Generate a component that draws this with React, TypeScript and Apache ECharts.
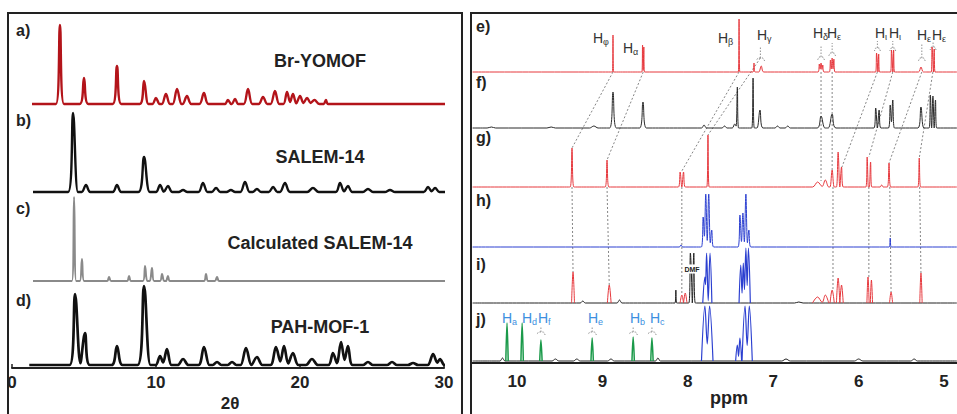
import React, { useEffect, useRef } from "react";
import * as echarts from "echarts";

const FONT = '"Liberation Sans", Arial, Helvetica, sans-serif';

// ---------------- Left panel: PXRD patterns, peaks as [2θ, height, halfWidth] ----------------
const twoThetaTicks = [0, 10, 20, 30];
const pxrdNames = ["Br-YOMOF", "SALEM-14", "Calculated SALEM-14", "PAH-MOF-1"];
const pxrdLetters = ["a)", "b)", "c)", "d)"];
const pxrdRanges = [[1.39, 30.07], [1.46, 30.07], [1.46, 30.07], [1.2, 30.07]];

const pxrdBrYOMOF = [
  [3.33, 79, 0.28], [5.0, 26, 0.3], [7.29, 38, 0.3], [9.17, 23, 0.3], [10.0, 6, 0.25],
  [10.69, 10, 0.28], [11.46, 15, 0.3], [12.15, 8, 0.3], [13.33, 11, 0.32], [15.0, 4, 0.22],
  [15.49, 5, 0.22], [16.39, 15, 0.3], [17.43, 7, 0.3], [18.26, 13, 0.3], [19.1, 12, 0.25],
  [19.51, 10, 0.25], [20.0, 8, 0.28], [20.49, 6, 0.3], [21.0, 4, 0.35], [21.8, 4, 0.15],
];
const pxrdSALEM14 = [
  [4.24, 79, 0.34], [5.14, 7, 0.3], [7.29, 7, 0.3], [9.17, 35, 0.4], [10.28, 7, 0.28],
  [10.83, 6, 0.3], [11.88, 2, 0.3], [13.26, 9, 0.32], [14.17, 4, 0.3], [15.2, 2, 0.3],
  [16.18, 10, 0.32], [17.01, 3, 0.3], [18.13, 5, 0.3], [18.96, 9, 0.35], [20.9, 4, 0.4],
  [22.78, 9, 0.3], [23.33, 6, 0.3], [24.72, 3, 0.35], [26.25, 2, 0.35], [28.89, 5, 0.3],
  [29.38, 4, 0.3],
];
const pxrdCalcSALEM14 = [
  [4.31, 84, 0.15], [4.86, 22, 0.15], [6.74, 4, 0.14], [8.13, 5, 0.14], [9.24, 15, 0.15],
  [9.72, 13, 0.15], [10.42, 7, 0.14], [10.83, 5, 0.14], [13.47, 7, 0.15], [14.24, 4, 0.15],
];
const pxrdPAHMOF1 = [
  [4.38, 71, 0.38], [5.07, 32, 0.34], [7.29, 19, 0.38], [9.17, 79, 0.45], [10.28, 9, 0.3],
  [10.76, 16, 0.32], [11.88, 6, 0.38], [13.33, 18, 0.38], [14.24, 3, 0.3], [15.28, 3, 0.3],
  [16.25, 17, 0.38], [17.01, 8, 0.38], [18.33, 18, 0.38], [18.89, 19, 0.32], [19.51, 12, 0.38],
  [20.83, 6, 0.42], [22.29, 12, 0.32], [22.85, 23, 0.32], [23.33, 19, 0.32], [24.72, 3, 0.35],
  [26.39, 3, 0.35], [27.85, 2, 0.35], [29.24, 11, 0.38], [29.72, 6, 0.3],
];

// ---------------- Right panel: 1H NMR spectra, peaks as [ppm, height, halfWidth] ----------------
const ppmTicks = [10, 9, 8, 7, 6, 5];
const nmrLetters = ["e)", "f)", "g)", "h)", "i)", "j)"];

const nmrE = [
  [8.876, 37, 0.008], [8.53, 27, 0.008], [8.515, 25, 0.008], [7.4, 53, 0.009], [7.225, 9, 0.012],
  [7.14, 6, 0.03], [6.46, 8, 0.015], [6.44, 9, 0.015], [6.42, 7, 0.015], [6.33, 12, 0.013],
  [6.31, 14, 0.013], [6.29, 13, 0.013], [5.79, 19, 0.01], [5.765, 18, 0.01], [5.615, 22, 0.01],
  [5.59, 22, 0.01], [5.27, 5, 0.03], [5.14, 25, 0.01], [5.115, 23, 0.01],
];
const nmrF = [
  [10.3, 1, 0.05], [9.6, 1, 0.05], [9.1, 2, 0.05], [8.876, 36, 0.04], [8.525, 26, 0.04],
  [7.81, 3, 0.03], [7.57, 2, 0.03], [7.45, 4, 0.03], [7.42, 41, 0.015], [7.236, 50, 0.015],
  [7.155, 18, 0.035], [6.95, 2, 0.03], [6.83, 2, 0.03], [6.44, 12, 0.045], [6.31, 14, 0.045],
  [5.8, 20, 0.02], [5.76, 18, 0.02], [5.63, 23, 0.02], [5.6, 28, 0.02], [5.27, 21, 0.035],
  [5.16, 33, 0.015], [5.13, 32, 0.015], [5.1, 28, 0.015],
];
const nmrG = [
  [9.356, 39, 0.022], [8.946, 27, 0.022], [8.09, 15, 0.02], [8.05, 15, 0.02], [7.764, 52, 0.014],
  [6.48, 5, 0.06], [6.39, 7, 0.04], [6.31, 17, 0.025], [6.24, 35, 0.02], [6.2, 20, 0.02],
  [5.9, 30, 0.015], [5.86, 25, 0.015], [5.73, 2, 0.02], [5.644, 24, 0.02], [5.29, 29, 0.017],
];
const nmrH = [
  [8.08, 2, 0.02], [7.82, 30, 0.022], [7.79, 53, 0.02], [7.755, 53, 0.02], [7.72, 17, 0.022],
  [7.39, 32, 0.022], [7.355, 34, 0.02], [7.32, 53, 0.02], [7.285, 17, 0.022], [5.63, 9, 0.012],
];
const nmrIBlack = [[9.23, 2, 0.03], [8.8, 3, 0.03], [8.14, 13, 0.01], [7.97, 50, 0.018], [7.93, 50, 0.018], [6.7, 1, 0.05]];
const nmrIRed = [
  [9.344, 31, 0.017], [8.92, 18, 0.022], [8.07, 8, 0.02], [8.03, 10, 0.02], [6.48, 6, 0.06],
  [6.39, 8, 0.04], [6.31, 13, 0.025], [6.24, 25, 0.02], [6.2, 18, 0.02], [5.89, 26, 0.013],
  [5.85, 23, 0.013], [5.62, 11, 0.018], [5.27, 30, 0.014],
];
const nmrIBlue = [[7.8, 26, 0.025], [7.78, 50, 0.02], [7.74, 50, 0.022], [7.38, 38, 0.02], [7.35, 40, 0.02], [7.32, 55, 0.022], [7.29, 55, 0.022]];
const nmrJBlack = [[10.17, 3, 0.03], [9.55, 2, 0.04], [9.3, 2, 0.04], [8.9, 2, 0.04], [8.35, 3, 0.03], [6.85, 2, 0.05], [6.0, 2, 0.05], [5.35, 2, 0.04]];
const nmrJGreen = [[10.117, 38, 0.014], [9.94, 38, 0.014], [9.72, 21, 0.014], [9.12, 23, 0.014], [8.64, 24, 0.014], [8.42, 23, 0.014]];
const nmrJBlue = [[7.8, 55, 0.04], [7.745, 55, 0.04], [7.42, 16, 0.02], [7.39, 23, 0.02], [7.33, 55, 0.035], [7.28, 55, 0.035]];

// proton labels
const greekLabels = ["φ", "α", "β", "γ", "δ", "ε", "ι", "ι", "ε", "ε"];
const latinLabels = ["a", "d", "f", "e", "b", "c"];

// ---------------- layout (positions / styles, not data) ----------------
const LEFT_OFF = [264, 176, 87, 3];
const RIGHT_OFF: Record<string, number> = { e: 291, f: 235, g: 176, h: 116, i: 60, j: 2 };
const NMR_RANGE = [4.85, 10.52];

// connectors between spectra: [ppm, trace, height] -> [ppm, trace, height]
const connectors: [number, string, number][][] = [
  [[8.876, "e", 0], [9.356, "g", 39]],
  [[8.522, "e", 0], [8.946, "g", 27]],
  [[7.4, "e", 0], [8.07, "g", 16]],
  [[7.15, "e", 14], [7.764, "g", 52]],
  [[6.44, "e", 0], [6.44, "g", 6]],
  [[6.31, "e", 0], [6.31, "g", 17]],
  [[5.78, "e", 0], [6.195, "g", 20]],
  [[5.6, "e", 0], [5.88, "g", 30]],
  [[5.26, "e", 0], [5.644, "g", 24]],
  [[5.13, "e", 0], [5.29, "g", 29]],
  [[9.356, "g", 0], [9.344, "i", 31]],
  [[8.946, "g", 0], [8.92, "i", 18]],
  [[8.07, "g", 0], [8.07, "i", 10]],
  [[6.3, "g", 0], [6.3, "i", 14]],
  [[5.88, "g", 0], [5.88, "i", 26]],
  [[5.635, "g", 0], [5.62, "i", 11]],
  [[5.285, "g", 0], [5.27, "i", 30]],
];
// brackets: [ppm centre, trace, height, half width, stem]
const brackets: [number, string, number, number, number][] = [
  [7.15, "e", 14, 0.05, 11], [6.44, "e", 15, 0.04, 12], [6.31, "e", 19, 0.04, 10],
  [5.78, "e", 24, 0.035, 7], [5.6, "e", 24, 0.035, 7], [5.26, "e", 14, 0.04, 14],
  [5.128, "e", 25, 0.035, 6],
  [9.72, "j", 29, 0.05, 5], [9.12, "j", 29, 0.05, 5], [8.64, "j", 29, 0.05, 5], [8.42, "j", 29, 0.05, 5],
];
// label pixel anchors
const greekPos = [[593, 38], [623, 48], [718, 38], [757, 35], [813, 33], [827, 33], [875, 33], [889, 33], [917, 35], [932, 35]];
const latinPos = [[502, 318], [522, 318], [538, 318], [588, 318], [630, 318], [650, 318]];

// Builds a polyline from the read peak list: triangles whose overlapping legs meet in a valley.
function profile(peaks: number[][], off: number, range?: number[]) {
  const pk = [...peaks].sort((a, b) => a[0] - b[0]);
  const out: any[] = [];
  if (range) out.push([range[0], off]);
  for (let i = 0; i < pk.length; i++) {
    const [p, h, w] = pk[i];
    const prev = pk[i - 1];
    if (prev && prev[0] + prev[2] > p - w) {
      const [pa, ha, wa] = prev;
      let x = (ha - h + (ha * pa) / wa + (h * p) / w) / (ha / wa + h / w);
      x = Math.max(pa, Math.min(p, x));
      const y = Math.max(0, Math.min(ha * (1 - (x - pa) / wa), h * (1 - (p - x) / w)));
      out.push([x, off + y]);
    } else {
      if (prev) {
        out.push([prev[0] + prev[2], off]);
        if (!range) out.push([prev[0] + prev[2], null]);
      }
      out.push([p - w, off]);
    }
    out.push([p, off + h]);
  }
  const last = pk[pk.length - 1];
  out.push([last[0] + last[2], off]);
  if (range) out.push([range[1], off]);
  return out;
}

function lineSeries(data: any[], color: string, width: number, xi: number, z = 3, smooth: number | boolean = 0.35) {
  return {
    type: "line",
    xAxisIndex: xi,
    yAxisIndex: xi,
    data,
    showSymbol: false,
    symbol: "none",
    connectNulls: false,
    silent: true,
    smooth,
    z,
    lineStyle: { color, width },
  };
}

export default function App() {
  const ref = useRef<HTMLDivElement>(null);
  useEffect(() => {
    if (!ref.current) return;
    const chart = echarts.init(ref.current, undefined, { renderer: "svg" });

    const pxrd = [pxrdBrYOMOF, pxrdSALEM14, pxrdCalcSALEM14, pxrdPAHMOF1];
    const pxrdColors = ["#b3141a", "#111111", "#8a8a8a", "#111111"];
    const pxrdWidths = [2.4, 2.4, 2, 2.7];
    const series: any[] = pxrd.map((pk, i) =>
      lineSeries(profile(pk, LEFT_OFF[i], pxrdRanges[i]), pxrdColors[i], pxrdWidths[i], 0)
    );

    const red = "#e6383d";
    const blue = "#2b3fd0";
    const green = "#1b9a4a";
    const R = NMR_RANGE;
    series.push(lineSeries(profile(nmrE, RIGHT_OFF.e, R), red, 1, 1));
    series.push(lineSeries(profile(nmrF, RIGHT_OFF.f, R), "#2a2a2a", 1, 1));
    series.push(lineSeries(profile(nmrG, RIGHT_OFF.g, R), red, 1, 1));
    series.push(lineSeries(profile(nmrH, RIGHT_OFF.h, R), blue, 1, 1));
    series.push(lineSeries(profile(nmrIBlack, RIGHT_OFF.i, R), "#222222", 1, 1));
    series.push(lineSeries(profile(nmrIRed, RIGHT_OFF.i), red, 1, 1, 4));
    series.push(lineSeries(profile(nmrIBlue, RIGHT_OFF.i), blue, 1.2, 1, 4));
    series.push(lineSeries(profile(nmrJBlack, RIGHT_OFF.j, R), "#222222", 1, 1));
    series.push(lineSeries(profile(nmrJGreen, RIGHT_OFF.j), green, 1.5, 1, 4));
    series.push(lineSeries(profile(nmrJBlue, RIGHT_OFF.j), blue, 1.2, 1, 4));

    // dashed connectors + brackets
    const conn: any[] = [];
    for (const [a, b] of connectors) {
      conn.push([a[0], RIGHT_OFF[a[1]] + a[2]], [b[0], RIGHT_OFF[b[1]] + b[2]], [b[0], null]);
    }
    const br: any[] = [];
    for (const [c, t, h, w, s] of brackets) {
      const L = RIGHT_OFF[t] + h;
      br.push([c - w, L - 3], [c - w * 0.6, L], [c + w * 0.6, L], [c + w, L - 3], [c + w, null]);
      br.push([c, L], [c, L + s], [c, null]);
    }
    series.push({
      ...lineSeries(conn, "#666666", 0.8, 1, 2, false),
      lineStyle: { color: "#666666", width: 0.8, type: [2, 2] },
    });
    series.push({
      ...lineSeries(br, "#777777", 0.8, 1, 2, false),
      lineStyle: { color: "#777777", width: 0.8, type: [1.5, 1.5] },
    });

    const axisCommon = {
      axisLine: { show: true, lineStyle: { color: "#222", width: 2 } },
      axisTick: { show: true, inside: true, length: 4, lineStyle: { color: "#222", width: 1.5 } },
      splitLine: { show: false },
    };

    const graphic: any[] = [
      { type: "rect", shape: { x: 8, y: 13, width: 454, height: 420 }, style: { fill: "none", stroke: "#222", lineWidth: 2 }, z: 10 },
      { type: "rect", shape: { x: 471, y: 13, width: 520, height: 420 }, style: { fill: "none", stroke: "#222", lineWidth: 2 }, z: 10 },
    ];
    const letterY = [30, 120, 208, 300];
    pxrdLetters.forEach((t, i) =>
      graphic.push({ type: "text", z: 10, style: { text: t, x: 16, y: letterY[i], font: `bold 16px ${FONT}`, fill: "#222", verticalAlign: "middle" } })
    );
    const nameY = [61, 157, 243, 327];
    pxrdNames.forEach((t, i) =>
      graphic.push({ type: "text", z: 10, style: { text: t, x: 320, y: nameY[i], font: `bold 18px ${FONT}`, fill: "#222", align: "center", verticalAlign: "middle" } })
    );
    graphic.push({ type: "text", z: 10, style: { text: "2θ", x: 230, y: 403, font: `bold 17px ${FONT}`, fill: "#222", align: "center", verticalAlign: "middle" } });
    graphic.push({ type: "text", z: 10, style: { text: "ppm", x: 729, y: 398, font: `bold 18px ${FONT}`, fill: "#222", align: "center", verticalAlign: "middle" } });
    const nmrLetterY = [26, 82, 137, 200, 264, 319];
    nmrLetters.forEach((t, i) =>
      graphic.push({ type: "text", z: 10, style: { text: t, x: 476, y: nmrLetterY[i], font: `bold 16px ${FONT}`, fill: "#222", verticalAlign: "middle" } })
    );
    const hLabel = (sub: string, x: number, y: number, color: string) => ({
      type: "text",
      z: 10,
      style: {
        text: `{h|H}{s|${sub}}`,
        x,
        y,
        verticalAlign: "middle",
        rich: {
          h: { fontSize: 14, fontFamily: FONT, fill: color, lineHeight: 16 },
          s: { fontSize: 9, fontFamily: FONT, fill: color, padding: [8, 0, 0, 0] },
        },
      },
    });
    greekLabels.forEach((g, i) => graphic.push(hLabel(g, greekPos[i][0], greekPos[i][1], "#333")));
    latinLabels.forEach((g, i) => graphic.push(hLabel(g, latinPos[i][0], latinPos[i][1], "#3d8fe0")));
    graphic.push({
      type: "text",
      z: 12,
      style: { text: "DMF", x: 692, y: 269, font: `bold 7px ${FONT}`, fill: "#222", align: "center", verticalAlign: "middle", backgroundColor: "#fff", padding: [1, 1] },
    });

    chart.setOption({
      animation: false,
      backgroundColor: "#ffffff",
      grid: [
        { left: 12, right: 513, top: 13, bottom: 46 },
        { left: 472, right: 0, top: 13, bottom: 51 },
      ],
      xAxis: [
        {
          type: "value",
          gridIndex: 0,
          min: twoThetaTicks[0],
          max: twoThetaTicks[twoThetaTicks.length - 1],
          interval: 10,
          ...axisCommon,
          axisLabel: { color: "#222", fontSize: 17, fontWeight: "bold", fontFamily: FONT, margin: 6 },
        },
        {
          type: "value",
          gridIndex: 1,
          min: 4.848,
          max: 10.527,
          inverse: true,
          splitNumber: 5,
          ...axisCommon,
          axisTick: { show: false },
          axisLabel: {
            color: "#222",
            fontSize: 17,
            fontWeight: "bold",
            fontFamily: FONT,
            margin: 10,
            showMinLabel: false,
            showMaxLabel: false,
            formatter: (v: number) => (ppmTicks.includes(v) ? String(v) : ""),
          },
        },
      ],
      yAxis: [
        { type: "value", gridIndex: 0, min: 0, max: 355, show: false },
        { type: "value", gridIndex: 1, min: 0, max: 350, show: false },
      ],
      series,
      graphic,
    });
    return () => chart.dispose();
  }, []);
  return <div ref={ref} style={{ position: "fixed", left: 0, top: 0, width: 957, height: 414 }} />;
}
